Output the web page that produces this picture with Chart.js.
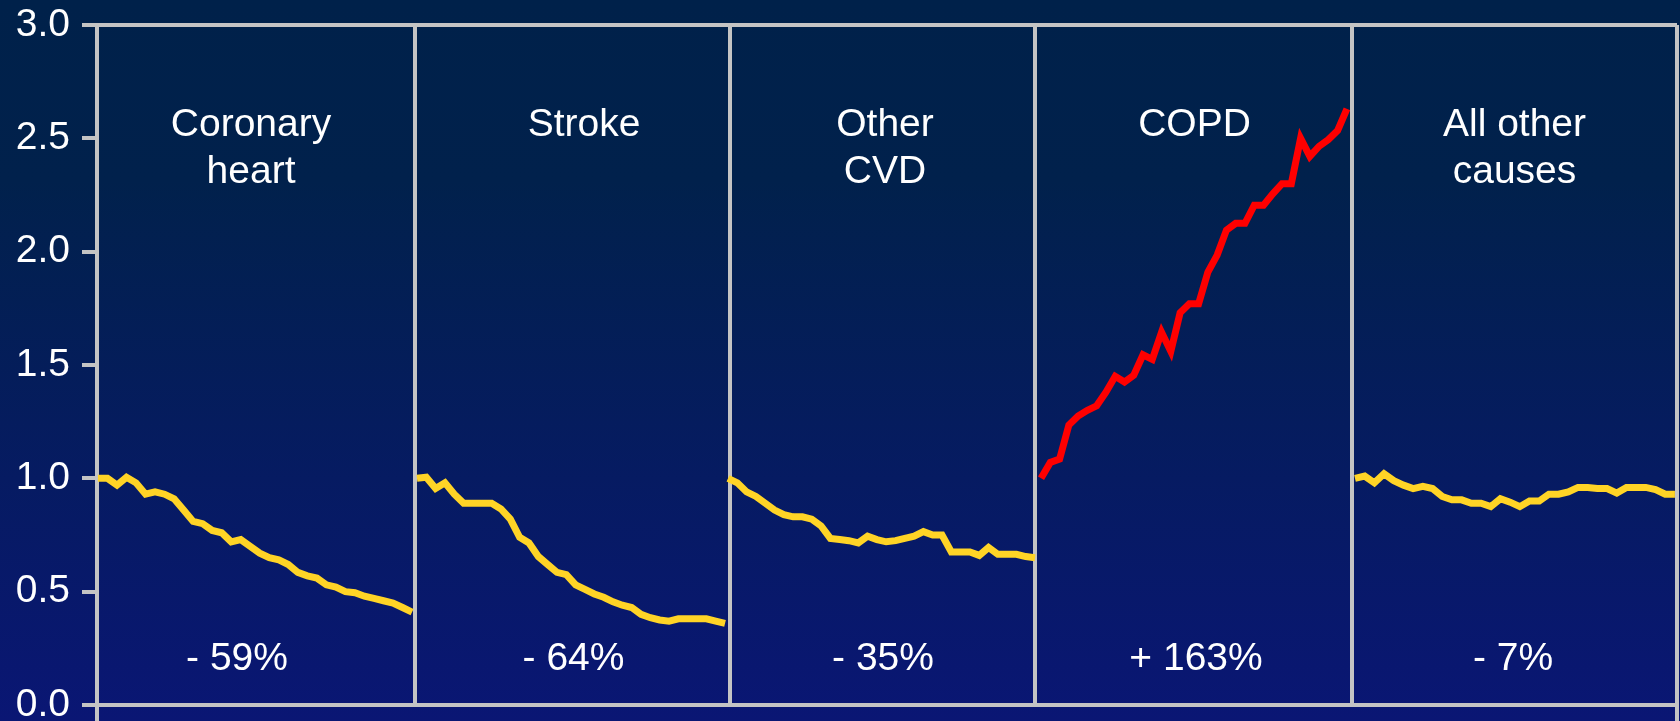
<!DOCTYPE html>
<html>
<head>
<meta charset="utf-8">
<script src="https://cdn.jsdelivr.net/npm/chart.js@4.4.1/dist/chart.umd.min.js"></script>
<style>
  html, body { margin: 0; padding: 0; background: #05195c; overflow: hidden; }
  canvas { display: block; }
</style>
</head>
<body>
<canvas id="chart" width="1680" height="721"></canvas>
<script>
// Age-adjusted death rate relative to 1965 (1965 = 1.0), by cause
const years = [1965, 1966, 1967, 1968, 1969, 1970, 1971, 1972, 1973, 1974, 1975, 1976,
               1977, 1978, 1979, 1980, 1981, 1982, 1983, 1984, 1985, 1986, 1987, 1988,
               1989, 1990, 1991, 1992, 1993, 1994, 1995, 1996, 1997, 1998];

const causes = [["Coronary", "heart"], ["Stroke"], ["Other", "CVD"], ["COPD"], ["All other", "causes"]];

const coronaryHeart = [1.00, 1.00, 0.97, 1.005, 0.98, 0.93, 0.94, 0.93, 0.91, 0.86, 0.81, 0.80,
                       0.77, 0.76, 0.72, 0.73, 0.70, 0.67, 0.65, 0.64, 0.62, 0.585, 0.57, 0.56,
                       0.53, 0.52, 0.50, 0.495, 0.48, 0.47, 0.46, 0.45, 0.43, 0.41];
const stroke        = [1.00, 1.005, 0.955, 0.98, 0.93, 0.89, 0.89, 0.89, 0.89, 0.865, 0.82, 0.74,
                       0.715, 0.655, 0.62, 0.585, 0.575, 0.53, 0.51, 0.49, 0.475, 0.455, 0.44, 0.43,
                       0.40, 0.385, 0.375, 0.37, 0.38, 0.38, 0.38, 0.38, 0.37, 0.36];
const otherCvd      = [1.00, 0.98, 0.94, 0.92, 0.89, 0.86, 0.84, 0.83, 0.83, 0.82, 0.79, 0.735,
                       0.73, 0.725, 0.715, 0.745, 0.73, 0.72, 0.725, 0.735, 0.745, 0.765, 0.75, 0.75,
                       0.675, 0.675, 0.675, 0.66, 0.695, 0.665, 0.665, 0.665, 0.655, 0.65];
const copd          = [1.00, 1.07, 1.085, 1.235, 1.275, 1.30, 1.32, 1.38, 1.45, 1.425, 1.455, 1.545,
                       1.525, 1.645, 1.56, 1.73, 1.77, 1.77, 1.91, 1.985, 2.095, 2.125, 2.125, 2.205,
                       2.205, 2.255, 2.30, 2.30, 2.50, 2.42, 2.465, 2.495, 2.535, 2.63];
const allOther      = [1.00, 1.01, 0.98, 1.02, 0.99, 0.97, 0.955, 0.965, 0.955, 0.92, 0.905, 0.905,
                       0.89, 0.89, 0.875, 0.91, 0.895, 0.875, 0.90, 0.90, 0.93, 0.93, 0.94, 0.96,
                       0.96, 0.955, 0.955, 0.935, 0.96, 0.96, 0.96, 0.95, 0.93, 0.93];

const yTicks = [0, 0.5, 1.0, 1.5, 2.0, 2.5, 3.0];

const seriesValues = [coronaryHeart, stroke, otherCvd, copd, allOther];
const seriesColors = ["#FFD426", "#FFD426", "#FFD426", "#FF0000", "#FFD426"];

// Layout of the five side-by-side panels, in percent of the plot width
const panelEdges = [0, 20.13, 40.06, 59.37, 79.43, 100];
const lineSpans  = [[0.06, 19.94], [20.25, 39.75], [39.94, 59.37], [59.75, 79.11], [79.62, 99.87]];
const titleShift = [-5, 11.5, 2.5, 1, 0];     // px from panel centre
const pctShift   = [-19, 1, 0.5, 2.5, -1.5];  // px from panel centre

const GRID = "#C4C4C4";
const FONT = '"Liberation Sans", Arial, Helvetica, sans-serif';

// One hidden x scale per panel maps the year range onto that panel's strip
const scales = {
  x: {
    type: "linear", min: 0, max: 100, z: 1,
    afterBuildTicks: s => { s.ticks = panelEdges.map(v => ({ value: v })); },
    afterFit: s => { s.height = 16; s.paddingLeft = 0; s.paddingRight = 0; },
    ticks: { display: false },
    grid: {
      color: GRID, lineWidth: 4, tickLength: 16, tickWidth: 4,
      tickColor: c => (c.index === 0 || c.index === panelEdges.length - 1) ? GRID : "transparent"
    },
    border: { display: true, color: GRID, width: 4 }
  },
  y: {
    type: "linear", min: 0, max: 3,
    afterBuildTicks: s => { s.ticks = yTicks.map(v => ({ value: v })); },
    afterFit: s => { s.width = 97; s.paddingTop = 0; s.paddingBottom = 0; },
    ticks: {
      color: "#FFFFFF", padding: 12,
      font: { family: FONT, size: 39 },
      callback: v => Number(v).toFixed(1)
    },
    grid: {
      color: c => (c.tick && c.tick.value === 3) ? GRID : "transparent",
      lineWidth: 4, tickLength: 15, tickWidth: 4, tickColor: GRID
    },
    border: { display: true, color: GRID, width: 4 }
  }
};

const first = years[0], last = years[years.length - 1];
lineSpans.forEach(([a, b], p) => {
  const range = (last - first) / ((b - a) / 100);
  const min = first - (a / 100) * range;
  scales["p" + p] = { type: "linear", display: false, min: min, max: min + range };
});

const datasets = seriesValues.map((vals, p) => ({
  label: causes[p].join(" "),
  data: vals.map((v, i) => ({ x: years[i], y: v })),
  xAxisID: "p" + p,
  yAxisID: "y",
  borderColor: seriesColors[p],
  borderWidth: 7,
  pointRadius: 0,
  tension: 0,
  fill: false
}));

const background = {
  id: "background",
  beforeDraw(chart) {
    const { ctx, width, height } = chart;
    const g = ctx.createLinearGradient(0, 0, 0, height);
    g.addColorStop(0, "#00214A");
    g.addColorStop(0.25, "#01214C");
    g.addColorStop(1, "#0A1674");
    ctx.save();
    ctx.fillStyle = g;
    ctx.fillRect(0, 0, width, height);
    ctx.restore();
  }
};

const panelText = {
  id: "panelText",
  afterDraw(chart) {
    const { ctx, chartArea } = chart;
    const x = chart.scales.x;
    ctx.save();
    ctx.fillStyle = "#FFFFFF";
    ctx.font = "39px " + FONT;
    ctx.textAlign = "center";
    ctx.textBaseline = "alphabetic";
    causes.forEach((lines, p) => {
      const cx = (x.getPixelForValue(panelEdges[p]) + x.getPixelForValue(panelEdges[p + 1])) / 2;
      lines.forEach((t, k) => ctx.fillText(t, cx + titleShift[p], chartArea.top + 111 + k * 47));
      const vals = seriesValues[p];
      const pct = Math.round((vals[vals.length - 1] / vals[0] - 1) * 100);
      const txt = (pct < 0 ? "- " : "+ ") + Math.abs(pct) + "%";
      ctx.fillText(txt, cx + pctShift[p], chartArea.bottom - 35);
    });
    ctx.restore();
  }
};

new Chart(document.getElementById("chart"), {
  type: "line",
  data: { datasets },
  options: {
    responsive: false,
    animation: false,
    devicePixelRatio: 1,
    layout: { padding: { top: 25, right: 3, bottom: 0, left: 0 } },
    plugins: { legend: { display: false }, tooltip: { enabled: false } },
    scales
  },
  plugins: [background, panelText]
});
</script>
</body>
</html>
